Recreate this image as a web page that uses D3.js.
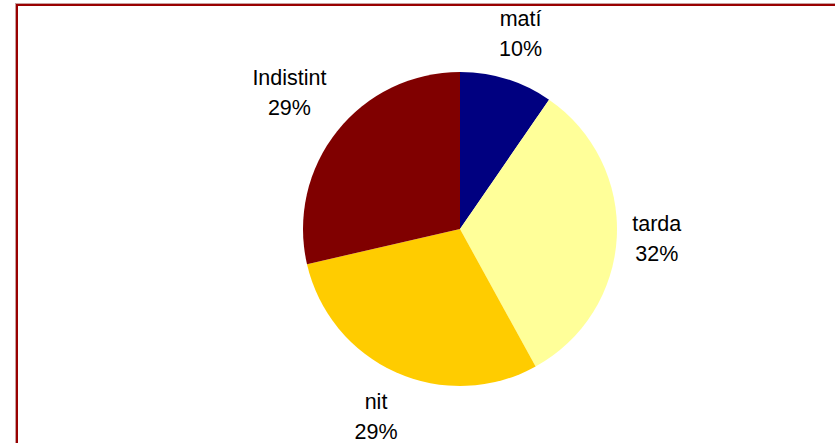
<!DOCTYPE html>
<html>
<head>
<meta charset="utf-8">
<script src="https://cdn.jsdelivr.net/npm/d3@7"></script>
<style>
  body { margin: 0; background: #fff; }
  text { font-family: "Liberation Sans", Arial, sans-serif; }
</style>
</head>
<body>
<div id="container"></div>
<script>
var WIDTH = 835;
var HEIGHT = 443;
var CENTER = { X: 460, Y: 229 };
var RADIUS = 157;
var FONT_SIZE = 21.5;
var LINE_GAP = 30;
var LABEL_GAP = 15;

// slices, clockwise from 12 o'clock
const categories = ['matí', 'tarda', 'nit', 'Indistint'];
const values = [9.6, 32.4, 29.4, 28.6];
const colors = ['#000080', '#FFFF99', '#FFCC00', '#800000'];

const svg = d3.select('#container')
  .append('svg')
    .attr('width', WIDTH)
    .attr('height', HEIGHT);

// frame
svg.append('rect')
   .attr('x', 15.5).attr('y', 3.5)
   .attr('width', WIDTH + 20).attr('height', HEIGHT + 20)
   .attr('fill', 'none')
   .attr('stroke', '#c8a0a0')
   .attr('stroke-width', 1);

svg.append('rect')
   .attr('x', 17).attr('y', 5)
   .attr('width', WIDTH + 20).attr('height', HEIGHT + 20)
   .attr('fill', 'none')
   .attr('stroke', '#990000')
   .attr('stroke-width', 2);

const data = categories.map((c, i) => ({ name: c, value: values[i], color: colors[i] }));
const total = d3.sum(values);
const pct = d3.format('.0%');

const pie = d3.pie()
              .value(d => d.value)
              .sort(null);

const arc = d3.arc()
              .innerRadius(0)
              .outerRadius(RADIUS);

const arcs = pie(data);

const chart = svg.append('g')
                 .attr('transform', `translate(${CENTER.X}, ${CENTER.Y})`);

chart.selectAll('.slice')
     .data(arcs)
     .enter()
     .append('path')
     .attr('class', 'slice')
     .attr('d', arc)
     .attr('fill', d => d.data.color);

// labels: two lines, pushed outward along the mid angle until clear of the pie
const labels = chart.selectAll('.label')
                    .data(arcs)
                    .enter()
                    .append('g')
                    .attr('class', 'label');

labels.each(function(d) {
  const g = d3.select(this);
  const lines = [d.data.name, pct(d.data.value / total)];
  const t = g.append('text')
             .attr('text-anchor', 'middle')
             .style('font-size', FONT_SIZE + 'px')
             .attr('fill', '#000');
  lines.forEach((s, i) => {
    t.append('tspan')
     .attr('x', 0)
     .attr('y', i * LINE_GAP)
     .text(s);
  });
  const box = t.node().getBBox();
  const bw = box.width, bh = box.height;
  const cx0 = box.x + bw / 2, cy0 = box.y + bh / 2;

  const mid = (d.startAngle + d.endAngle) / 2;
  const ux = Math.sin(mid), uy = -Math.cos(mid);
  let dist = RADIUS;
  for (; dist < RADIUS + 200; dist += 0.5) {
    const cx = ux * dist, cy = uy * dist;
    const nx = Math.max(cx - bw / 2, Math.min(0, cx + bw / 2));
    const ny = Math.max(cy - bh / 2, Math.min(0, cy + bh / 2));
    if (Math.hypot(nx, ny) >= RADIUS + LABEL_GAP) break;
  }
  g.attr('transform', `translate(${ux * dist - cx0}, ${uy * dist - cy0})`);
});
</script>
</body>
</html>
